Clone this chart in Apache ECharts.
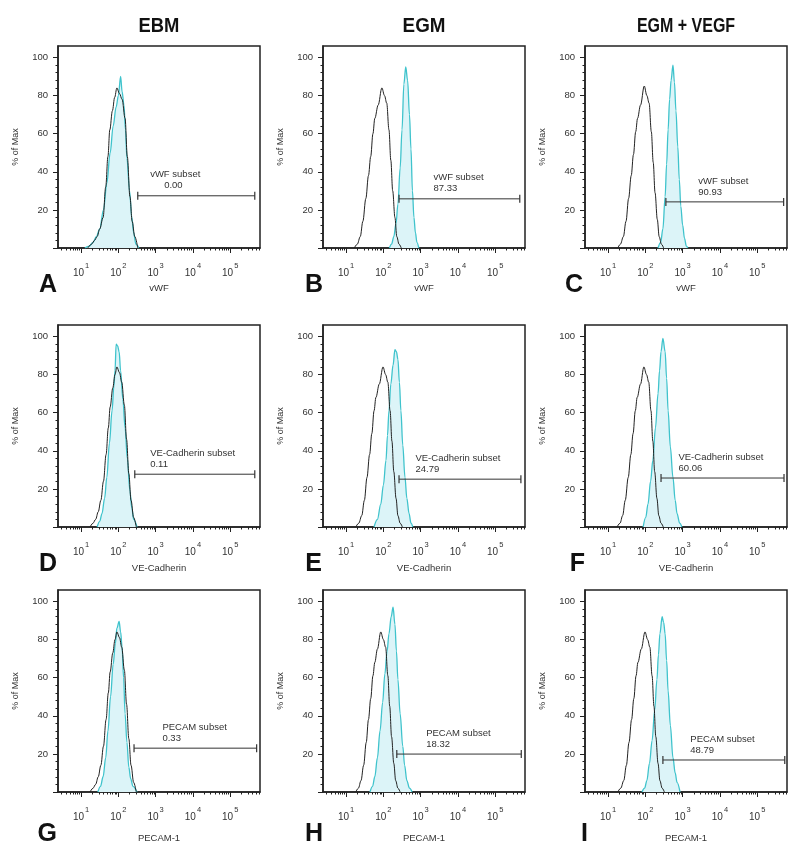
<!DOCTYPE html>
<html><head><meta charset="utf-8">
<script src="https://cdn.jsdelivr.net/npm/echarts@6/dist/echarts.min.js"></script>
<style>html,body{margin:0;padding:0;background:#fff}#c{width:800px;height:849px}</style>
</head><body><div id="c"></div>
<script>
// ---------- DATA (x = log10 fluorescence, y = % of Max) ----------
const columnTitles = ['EBM', 'EGM', 'EGM + VEGF'];
const rowMarkers = ['vWF', 'VE-Cadherin', 'PECAM-1'];
const gateNames = ['vWF subset', 'VE-Cadherin subset', 'PECAM subset'];
const panelLetters = ['A','B','C','D','E','F','G','H','I'];
const gateValues = ['0.00','87.33','90.93','0.11','24.79','60.06','0.33','18.32','48.79'];
const xTickLabels = [1, 2, 3, 4, 5];          // exponents: 10^1 ... 10^5
const yTickLabels = [20, 40, 60, 80, 100];

// gates: [start (log10), end (log10), height (%)]
const gateA = [2.52, 5.66, 27.4];
const gateB = [2.42, 5.66, 25.8];
const gateC = [2.55, 5.71, 24.2];
const gateD = [2.44, 5.66, 27.7];
const gateE = [2.42, 5.69, 25.1];
const gateF = [2.42, 5.72, 25.7];
const gateG = [2.42, 5.71, 23.0];
const gateH = [2.36, 5.70, 19.9];
const gateI = [2.47, 5.74, 16.8];

// control (isotype) histograms, black
const ctrlA = [[1.18,0],[1.28,2],[1.36,4],[1.43,6],[1.5,10],[1.59,16],[1.66,32],[1.72,48],[1.77,62],[1.84,72],[1.9,79],[1.96,84],[2.03,81],[2.1,78],[2.18,68],[2.24,48],[2.31,27],[2.37,14],[2.44,6],[2.52,0]];
const ctrlB = [[1.22,0],[1.3,2],[1.38,6],[1.45,14],[1.53,26],[1.6,38],[1.66,48],[1.72,60],[1.77,68],[1.86,75],[1.96,84],[2.03,80],[2.09,76],[2.15,62],[2.2,46],[2.25,30],[2.31,16],[2.36,6],[2.42,2],[2.48,0]];
const ctrlC = [[1.26,0],[1.33,2],[1.41,6],[1.48,14],[1.55,26],[1.62,38],[1.68,49],[1.74,61],[1.79,68],[1.87,75],[1.97,85],[2.04,80],[2.1,76],[2.16,61],[2.21,45],[2.26,29],[2.32,15],[2.37,6],[2.43,2],[2.49,0]];
const ctrlD = [[1.24,0],[1.32,2],[1.39,4],[1.46,8],[1.53,14],[1.6,24],[1.67,38],[1.73,52],[1.78,63],[1.85,73],[1.91,80],[1.96,84],[2.03,81],[2.09,76],[2.16,64],[2.22,46],[2.28,28],[2.34,14],[2.41,5],[2.48,0]];
const ctrlE = [[1.26,0],[1.34,2],[1.42,6],[1.49,14],[1.56,26],[1.63,38],[1.69,49],[1.75,61],[1.8,68],[1.89,75],[1.99,84],[2.06,80],[2.12,76],[2.18,61],[2.23,45],[2.28,29],[2.34,15],[2.39,6],[2.45,2],[2.51,0]];
const ctrlF = [[1.24,0],[1.32,2],[1.39,6],[1.46,14],[1.54,26],[1.61,38],[1.67,49],[1.73,61],[1.78,68],[1.87,75],[1.96,84],[2.03,80],[2.09,76],[2.15,61],[2.2,45],[2.25,29],[2.31,15],[2.36,6],[2.42,2],[2.48,0]];
const ctrlG = [[1.24,0],[1.32,2],[1.39,4],[1.46,8],[1.53,14],[1.6,24],[1.67,38],[1.73,52],[1.78,63],[1.85,73],[1.91,80],[1.96,84],[2.03,81],[2.09,76],[2.16,64],[2.22,46],[2.28,28],[2.34,14],[2.41,5],[2.48,0]];
const ctrlH = [[1.26,0],[1.33,2],[1.4,6],[1.47,14],[1.54,26],[1.6,38],[1.66,49],[1.72,61],[1.77,68],[1.84,75],[1.93,84],[2.0,80],[2.06,76],[2.12,61],[2.17,45],[2.22,29],[2.28,15],[2.33,6],[2.39,2],[2.45,0]];
const ctrlI = [[1.26,0],[1.34,2],[1.42,6],[1.49,14],[1.56,26],[1.63,38],[1.69,49],[1.75,61],[1.8,68],[1.89,75],[1.99,84],[2.06,80],[2.12,76],[2.18,61],[2.23,45],[2.28,29],[2.34,15],[2.39,6],[2.45,2],[2.51,0]];

// stained histograms, cyan filled
const stainA = [[1.1,0],[1.22,1],[1.32,3],[1.41,6],[1.5,10],[1.6,20],[1.69,34],[1.78,50],[1.86,64],[1.94,74],[2.0,80],[2.06,90],[2.1,82],[2.15,75],[2.19,62],[2.23,47],[2.3,30],[2.36,16],[2.41,8],[2.47,2],[2.55,0]];
const stainB = [[2.16,0],[2.22,2],[2.28,6],[2.34,13],[2.39,23],[2.45,42],[2.5,62],[2.55,86],[2.6,95],[2.65,88],[2.7,70],[2.74,52],[2.78,30],[2.82,16],[2.86,8],[2.9,3],[2.95,0]];
const stainC = [[2.34,0],[2.41,3],[2.47,10],[2.53,27],[2.57,44],[2.61,62],[2.65,78],[2.69,88],[2.74,96],[2.78,87],[2.82,72],[2.87,53],[2.91,36],[2.95,22],[3.0,12],[3.05,5],[3.1,1],[3.14,0]];
const stainD = [[1.43,0],[1.5,3],[1.56,7],[1.63,15],[1.69,26],[1.76,44],[1.83,61],[1.88,74],[1.91,82],[1.94,96],[1.98,95],[2.02,92],[2.06,82],[2.12,67],[2.18,52],[2.24,36],[2.31,19],[2.36,10],[2.41,4],[2.5,0]];
const stainE = [[1.75,0],[1.84,4],[1.93,12],[2.0,22],[2.07,35],[2.11,48],[2.15,61],[2.2,75],[2.26,85],[2.31,93],[2.35,92],[2.39,88],[2.43,76],[2.47,61],[2.52,43],[2.58,26],[2.63,15],[2.69,7],[2.74,2],[2.79,0]];
const stainF = [[1.94,0],[2.01,5],[2.07,12],[2.14,24],[2.2,35],[2.27,52],[2.34,70],[2.38,82],[2.42,92],[2.47,99],[2.53,92],[2.57,78],[2.61,61],[2.67,42],[2.74,26],[2.8,14],[2.85,7],[2.92,2],[2.98,0]];
const stainG = [[1.45,0],[1.52,3],[1.59,8],[1.66,18],[1.72,32],[1.79,50],[1.86,67],[1.92,78],[1.96,86],[2.02,89.5],[2.06,84],[2.1,76],[2.14,60],[2.18,41],[2.23,26],[2.28,13],[2.33,7],[2.39,3],[2.5,0]];
const stainH = [[1.64,0],[1.71,3],[1.77,8],[1.84,18],[1.91,32],[1.98,47],[2.04,62],[2.1,74],[2.15,83],[2.21,92],[2.26,97],[2.31,88],[2.35,74],[2.39,59],[2.45,41],[2.52,24],[2.57,14],[2.63,6],[2.7,2],[2.77,0]];
const stainI = [[1.91,0],[1.98,2],[2.04,6],[2.11,15],[2.18,27],[2.25,43],[2.31,59],[2.35,72],[2.39,83],[2.45,92],[2.49,89],[2.53,83],[2.57,69],[2.61,53],[2.67,35],[2.74,18],[2.8,10],[2.85,5],[2.93,0]];

const ctrls = [ctrlA, ctrlB, ctrlC, ctrlD, ctrlE, ctrlF, ctrlG, ctrlH, ctrlI];
const stains = [stainA, stainB, stainC, stainD, stainE, stainF, stainG, stainH, stainI];
const gates = [gateA, gateB, gateC, gateD, gateE, gateF, gateG, gateH, gateI];

// ---------- LAYOUT / STYLE ----------
const X_MIN = 0.38, X_MAX = 5.8, Y_MAX = 106;
const colLeft = [58, 323, 585];
const rowTop = [46, 325, 590];
const boxW = 202, boxH = 202;
const nameGaps = [35, 36, 41];
const labelDx = [13, 35, 33, 16, 17, 18, 29, 30, 28];
const numIndent = [14, 0, 0, 0, 0, 0, 0, 0, 0];
const letterX = [57, 323, 583, 57, 322, 585, 57, 323, 588];
const letterY = [285, 564, 834];
const headerScale = [0.92, 0.94, 0.8];
const FONT = '"Liberation Sans", Arial, sans-serif';
const TXT = '#333';
const CYAN = '#3fc3cc', FILL = '#dcf4f8', BLACK = '#222';

const minorX = [];
for (let n = 0; n <= 5; n++) for (let k = 2; k <= 9; k++) {
  const v = n + Math.log10(k);
  if (v > X_MIN && v < X_MAX) minorX.push(v);
}
const majorY = [0, 20, 40, 60, 80, 100];
const minorY = [];
for (let v = 4; v < 104; v += 4) if (v % 20 !== 0) minorY.push(v);

const grid = [], xAxis = [], yAxis = [], series = [], graphic = [];

for (let p = 0; p < 9; p++) {
  const r = Math.floor(p / 3), c = p % 3;
  grid.push({left: colLeft[c], top: rowTop[r], width: boxW, height: boxH, show: true,
    borderColor: BLACK, borderWidth: 1.5, backgroundColor: 'transparent', containLabel: false});
  xAxis.push({
    gridIndex: p, type: 'value', min: X_MIN, max: X_MAX, position: 'bottom',
    name: rowMarkers[r], nameLocation: 'middle', nameGap: nameGaps[r],
    nameTextStyle: {fontSize: 9.5, color: TXT, fontFamily: FONT},
    axisLine: {show: true, onZero: false, lineStyle: {color: BLACK, width: 1.5}},
    axisTick: {show: true, customValues: xTickLabels, length: 5, lineStyle: {color: BLACK, width: 1}},
    axisLabel: {show: true, customValues: xTickLabels, margin: 14,
      formatter: v => '{b|10}{s|' + v + '}',
      rich: {
        b: {fontSize: 10, color: TXT, fontFamily: FONT, lineHeight: 22, verticalAlign: 'middle'},
        s: {fontSize: 7.5, color: TXT, fontFamily: FONT, lineHeight: 22, verticalAlign: 'top', padding: [0, 0, 0, 1]}
      }},
    splitLine: {show: false}
  });
  xAxis.push({
    gridIndex: p, type: 'value', min: X_MIN, max: X_MAX, position: 'bottom',
    axisLine: {show: false, onZero: false},
    axisTick: {show: true, customValues: minorX, length: 2.5, lineStyle: {color: BLACK, width: 1}},
    axisLabel: {show: false}, splitLine: {show: false}
  });
  yAxis.push({
    gridIndex: p, type: 'value', min: 0, max: Y_MAX, position: 'left',
    name: '% of Max', nameLocation: 'middle', nameGap: 38, nameRotate: 90,
    nameTextStyle: {fontSize: 9, color: TXT, fontFamily: FONT},
    axisLine: {show: true, onZero: false, lineStyle: {color: BLACK, width: 1.5}},
    axisTick: {show: true, customValues: majorY, length: 5, lineStyle: {color: BLACK, width: 1}},
    axisLabel: {show: true, customValues: yTickLabels, margin: 10, fontSize: 9.5, color: TXT, fontFamily: FONT},
    splitLine: {show: false}
  });
  yAxis.push({
    gridIndex: p, type: 'value', min: 0, max: Y_MAX, position: 'left',
    axisLine: {show: false, onZero: false},
    axisTick: {show: true, customValues: minorY, length: 2.5, lineStyle: {color: BLACK, width: 1}},
    axisLabel: {show: false}, splitLine: {show: false}
  });

  series.push({
    type: 'line', xAxisIndex: 2 * p, yAxisIndex: 2 * p, data: stains[p],
    smooth: 0.35, smoothMonotone: 'x', symbol: 'none', z: 2, silent: true,
    lineStyle: {color: CYAN, width: 1.3}, areaStyle: {color: FILL, opacity: 1}
  });
  series.push({
    type: 'line', xAxisIndex: 2 * p, yAxisIndex: 2 * p, data: ctrls[p],
    smooth: 0.35, smoothMonotone: 'x', symbol: 'none', z: 3, silent: true,
    lineStyle: {color: BLACK, width: 1}
  });
  const g = gates[p];
  series.push({
    type: 'line', xAxisIndex: 2 * p, yAxisIndex: 2 * p, z: 4, silent: true,
    symbol: 'rect', symbolSize: [1.2, 8], showSymbol: true,
    itemStyle: {color: '#333'}, lineStyle: {color: '#333', width: 1},
    data: [
      {value: [g[0], g[2]], label: {show: true, position: [labelDx[p], -22.5], align: 'left', verticalAlign: 'top',
        formatter: '{n|' + gateNames[r] + '}\n{v|' + gateValues[p] + '}',
        rich: {
          n: {fontSize: 9.5, color: TXT, fontFamily: FONT, lineHeight: 11},
          v: {fontSize: 9.5, color: TXT, fontFamily: FONT, lineHeight: 11, padding: [0, 0, 0, numIndent[p]]}
        }}},
      {value: [g[1], g[2]]}
    ]
  });

  graphic.push({type: 'text', x: letterX[p], y: letterY[r], silent: true,
    style: {text: panelLetters[p], fill: '#111', font: 'bold 25px ' + FONT,
      align: 'right', verticalAlign: 'middle', textAlign: 'right', textVerticalAlign: 'middle'}});
}
for (let c = 0; c < 3; c++) {
  graphic.push({type: 'text', x: colLeft[c] + boxW / 2, y: 26, scaleX: headerScale[c], silent: true,
    style: {text: columnTitles[c], fill: '#111',
      font: 'bold 20px "Liberation Sans", Arial, sans-serif',
      align: 'center', verticalAlign: 'middle', textAlign: 'center', textVerticalAlign: 'middle'}});
}

const chart = echarts.init(document.getElementById('c'), null, {renderer: 'canvas'});
chart.setOption({animation: false, backgroundColor: '#fff', grid, xAxis, yAxis, series, graphic});
</script></body></html>
